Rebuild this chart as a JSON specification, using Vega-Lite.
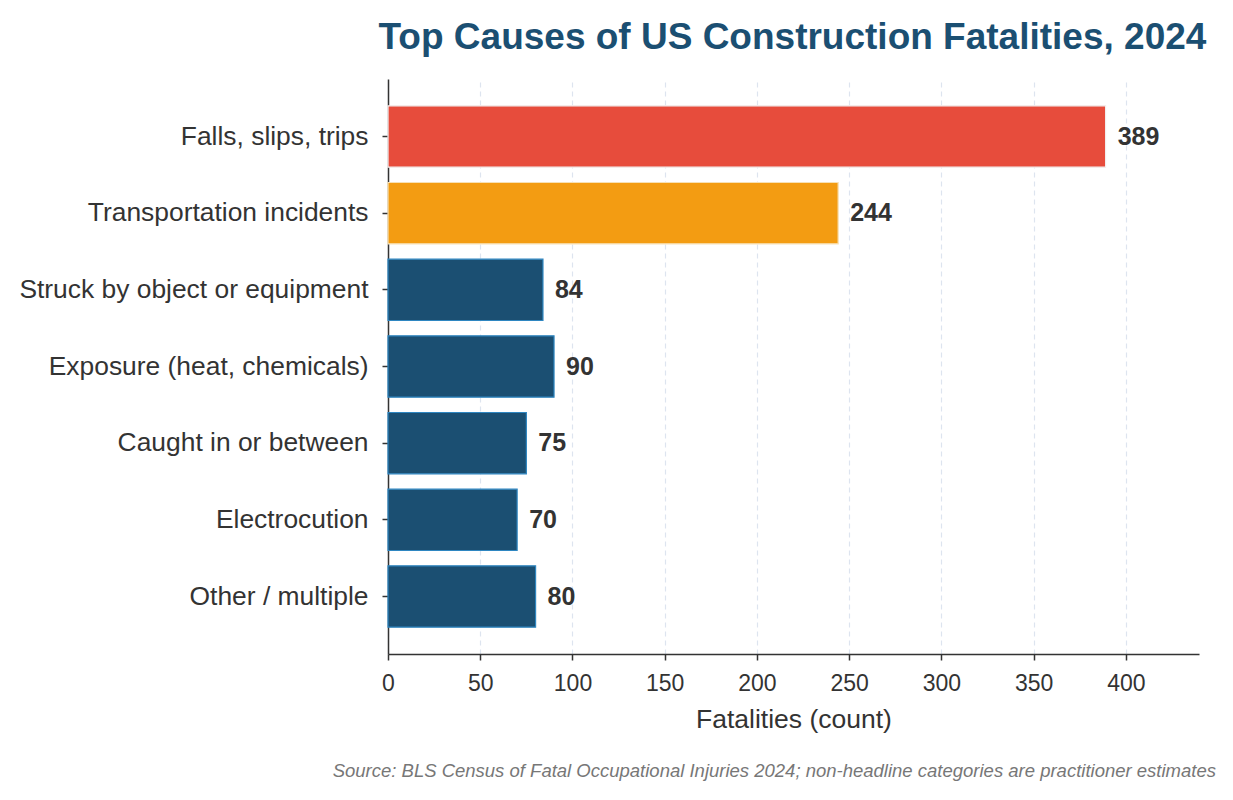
{
  "$schema": "https://vega.github.io/schema/vega-lite/v6.json",
  "background": "white",
  "padding": {"left": 18, "right": 35, "top": 19, "bottom": 5},
  "config": {
    "font": "Liberation Sans",
    "view": {"stroke": null},
    "concat": {"spacing": 0}
  },
  "title": {
    "text": "Top Causes of US Construction Fatalities, 2024",
    "fontSize": 37,
    "fontWeight": "bold",
    "color": "#1b4f72",
    "anchor": "middle",
    "dx": 175,
    "offset": 22
  },
  "vconcat": [
    {
      "width": 811,
      "height": 575,
      "title": {
        "text": "Source: BLS Census of Fatal Occupational Injuries 2024; non-headline categories are practitioner estimates",
        "orient": "bottom",
        "anchor": "end",
        "dx": 17,
        "fontSize": 18.5,
        "fontStyle": "italic",
        "fontWeight": "normal",
        "color": "#777777",
        "offset": 29
      },
      "data": {
        "values": [
          {"cause": "Falls, slips, trips", "count": 389, "group": "falls"},
          {"cause": "Transportation incidents", "count": 244, "group": "transport"},
          {"cause": "Struck by object or equipment", "count": 84, "group": "other"},
          {"cause": "Exposure (heat, chemicals)", "count": 90, "group": "other"},
          {"cause": "Caught in or between", "count": 75, "group": "other"},
          {"cause": "Electrocution", "count": 70, "group": "other"},
          {"cause": "Other / multiple", "count": 80, "group": "other"}
        ]
      },
      "encoding": {
        "y": {
          "field": "cause",
          "type": "nominal",
          "sort": null,
          "scale": {"paddingInner": 0.2, "paddingOuter": 0.35},
          "axis": {
            "title": null,
            "labelFontSize": 26.4,
            "labelColor": "#333333",
            "labelPadding": 14,
            "labelLimit": 600,
            "domainColor": "#333333",
            "domainWidth": 1.5,
            "tickColor": "#333333",
            "tickWidth": 1.5,
            "tickSize": 6,
            "grid": false
          }
        },
        "x": {
          "field": "count",
          "type": "quantitative",
          "scale": {"domain": [0, 439.6], "nice": false},
          "axis": {
            "title": "Fatalities (count)",
            "titleFontSize": 26.5,
            "titleFontWeight": "normal",
            "titleColor": "#333333",
            "titlePadding": 11,
            "values": [0, 50, 100, 150, 200, 250, 300, 350, 400],
            "labelFontSize": 23,
            "labelColor": "#333333",
            "labelPadding": 12,
            "labelFlush": false,
            "domainColor": "#333333",
            "domainWidth": 1.5,
            "tickColor": "#333333",
            "tickWidth": 1.5,
            "tickSize": 6,
            "grid": true,
            "gridColor": "#dde4ef",
            "gridDash": [5, 4],
            "gridWidth": 1.2
          }
        }
      },
      "layer": [
        {
          "mark": {"type": "bar", "strokeWidth": 1.2},
          "encoding": {
            "color": {
              "field": "group",
              "type": "nominal",
              "scale": {"domain": ["falls", "transport", "other"], "range": ["#e74c3c", "#f39c12", "#1b4f72"]},
              "legend": null
            },
            "stroke": {
              "field": "group",
              "type": "nominal",
              "scale": {"domain": ["falls", "transport", "other"], "range": ["#f2f2f2", "#f7e1b5", "#2e86c1"]},
              "legend": null
            }
          }
        },
        {
          "mark": {"type": "text", "align": "left", "baseline": "middle", "dx": 12, "fontSize": 25, "fontWeight": "bold", "color": "#333333"},
          "encoding": {
            "text": {"field": "count", "type": "quantitative"}
          }
        }
      ]
    }
  ]
}
